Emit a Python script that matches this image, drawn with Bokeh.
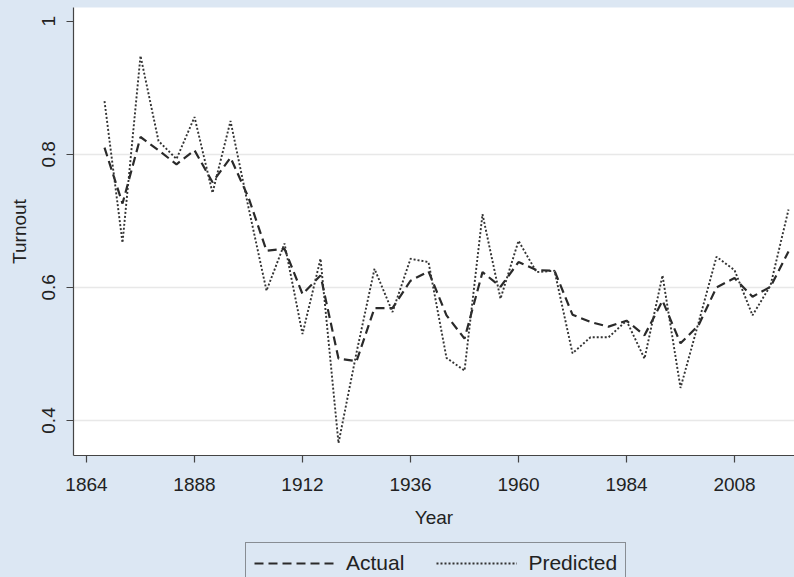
from bokeh.plotting import figure
from bokeh.layouts import column
from bokeh.models import Range1d, FixedTicker, Legend, LegendItem
from bokeh.embed import file_html
from bokeh.resources import INLINE

years = [1868, 1872, 1876, 1880, 1884, 1888, 1892, 1896, 1900, 1904, 1908, 1912,
         1916, 1920, 1924, 1928, 1932, 1936, 1940, 1944, 1948, 1952, 1956, 1960,
         1964, 1968, 1972, 1976, 1980, 1984, 1988, 1992, 1996, 2000, 2004, 2008,
         2012, 2016, 2020]
actual = [0.810, 0.726, 0.826, 0.806, 0.785, 0.806, 0.758, 0.795, 0.735, 0.655,
          0.658, 0.590, 0.618, 0.493, 0.489, 0.569, 0.569, 0.610, 0.624, 0.558,
          0.523, 0.623, 0.601, 0.638, 0.626, 0.625, 0.559, 0.548, 0.541, 0.550,
          0.528, 0.580, 0.516, 0.543, 0.600, 0.614, 0.586, 0.601, 0.654]
predicted = [0.880, 0.667, 0.948, 0.820, 0.793, 0.856, 0.742, 0.850, 0.720, 0.595,
             0.666, 0.530, 0.643, 0.366, 0.502, 0.628, 0.563, 0.643, 0.638, 0.494,
             0.475, 0.710, 0.583, 0.670, 0.623, 0.625, 0.501, 0.525, 0.525, 0.550,
             0.493, 0.618, 0.449, 0.547, 0.646, 0.626, 0.558, 0.603, 0.717]
series_names = ["Actual", "Predicted"]
x_ticks = [1864, 1888, 1912, 1936, 1960, 1984, 2008]
y_ticks = [0.4, 0.6, 0.8, 1.0]
grid_ticks = [0.4, 0.6, 0.8]

BG = "#dce7f3"
TXT = "#222222"
FONT = "Liberation Sans"
ACT_STYLE = dict(line_color="#2a2a2a", line_width=2.2, line_dash="9 5")
PRED_STYLE = dict(line_color="#333333", line_width=1.9, line_dash="2 2")

p = figure(frame_width=721, frame_height=448, output_backend="svg", toolbar_location=None,
           x_range=Range1d(1861.11, 2021.33), y_range=Range1d(0.3474, 1.0206),
           min_border_left=73, min_border_right=0, min_border_top=7,
           min_border_bottom=84)
p.border_fill_color = BG
p.background_fill_color = "white"
p.outline_line_color = None

p.line(years, actual, **ACT_STYLE)
p.line(years, predicted, **PRED_STYLE)

p.xgrid.visible = False
p.ygrid.ticker = FixedTicker(ticks=grid_ticks)
p.ygrid.grid_line_color = "#e8e8e8"
p.ygrid.grid_line_width = 1.5

p.xaxis.ticker = FixedTicker(ticks=x_ticks)
p.yaxis.ticker = FixedTicker(ticks=y_ticks)
p.yaxis.major_label_overrides = {1: "1"}
p.yaxis.major_label_orientation = "vertical"

for ax in (p.xaxis[0], p.yaxis[0]):
    ax.axis_line_color = "#444444"
    ax.axis_line_width = 1.2
    ax.major_tick_line_color = "#444444"
    ax.major_tick_line_width = 1.2
    ax.major_tick_out = 7
    ax.major_tick_in = 0
    ax.minor_tick_out = 0
    ax.minor_tick_in = 0
    ax.major_label_text_font = FONT
    ax.major_label_text_font_size = "19px"
    ax.major_label_text_color = TXT
    ax.axis_label_text_font = FONT
    ax.axis_label_text_font_size = "19px"
    ax.axis_label_text_font_style = "normal"
    ax.axis_label_text_color = TXT

p.xaxis.axis_label = "Year"
p.yaxis.axis_label = "Turnout"
p.xaxis.major_label_standoff = 15
p.xaxis.axis_label_standoff = 13
p.yaxis.major_label_standoff = 11
p.yaxis.axis_label_standoff = 10

# legend strip below the chart (its frame is aligned with the chart frame)
lg = figure(width=794, height=38, output_backend="svg", toolbar_location=None,
            x_range=Range1d(0, 1), y_range=Range1d(0, 1),
            x_axis_type=None, y_axis_type=None, min_border=0)
lg.border_fill_color = BG
lg.background_fill_color = BG
lg.outline_line_color = None
lg.grid.visible = False
# legend-only renderers, kept outside the visible range
r_act = lg.line([5, 6], [5, 6], **ACT_STYLE)
r_pred = lg.line([5, 6], [5, 6], **PRED_STYLE)

legend = Legend(items=[LegendItem(label=series_names[0], renderers=[r_act]),
                       LegendItem(label=series_names[1], renderers=[r_pred])],
                orientation="horizontal", location=(172, -7),
                glyph_width=81, glyph_height=22, label_standoff=11, spacing=32,
                padding=8, margin=0,
                background_fill_color=BG, background_fill_alpha=1.0,
                border_line_color="#333333", border_line_width=1.2,
                label_text_font=FONT, label_text_font_size="21px",
                label_text_color=TXT)
lg.add_layout(legend, "center")

layout = column(p, lg, spacing=0)

html = file_html(layout, INLINE)
html = html.replace("<head>", "<head><style>body{background:" + BG + ";}</style>", 1)
open("out.html", "w").write(html)
